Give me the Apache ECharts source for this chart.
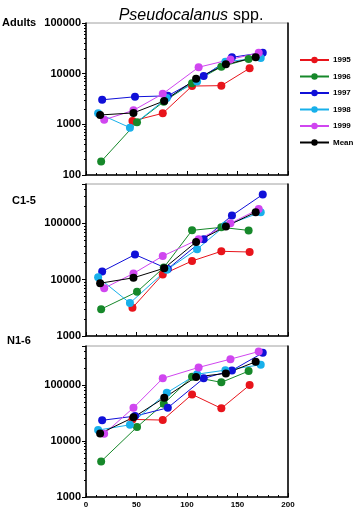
<!DOCTYPE html>
<html><head><meta charset="utf-8">
<script src="https://cdn.jsdelivr.net/npm/echarts@6/dist/echarts.min.js"></script>
<style>html,body{margin:0;padding:0;background:#fff}#c{width:360px;height:516px}</style>
</head><body><div id="c"></div>
<script>
const seriesNames = ['1995','1996','1997','1998','1999','Mean'];
const seriesColors = ['#e8141b','#16882a','#1010d8','#18b0ea','#d046f0','#000000'];
const panelNames = ['Adults','C1-5','N1-6'];
const xTicks = [0, 50, 100, 150, 200];

const days1995 = [46, 76, 105, 134, 162];
const days1996 = [15, 50.5, 77, 105, 134, 161];
const days1997 = [16, 48.5, 81, 116.5, 144.5, 175];
const days1998 = [12, 43.5, 80, 110, 138, 173];
const days1999 = [18, 47, 76, 111.5, 143, 171];
const daysMean = [14, 47, 77.5, 109, 138.5, 168];

const adults1995 = [1165, 1650, 5700, 5800, 12800];
const adults1996 = [185, 1100, 2800, 6500, 13700, 19500];
const adults1997 = [3050, 3500, 3650, 9000, 21000, 26000];
const adults1998 = [1650, 860, 3300, 7000, 17200, 20400];
const adults1999 = [1230, 1890, 4000, 13400, 19000, 25900];
const adultsMean = [1530, 1680, 2900, 7900, 15300, 21000];

const c15_1995 = [3170, 12400, 21500, 31900, 31000];
const c15_1996 = [3000, 6080, 16400, 75100, 85000, 75000];
const c15_1997 = [14000, 27900, 15500, 52000, 138000, 326000];
const c15_1998 = [11000, 3840, 15000, 34700, 92000, 157000];
const c15_1999 = [7080, 12900, 26300, 52100, 100000, 179000];
const c15_Mean = [8670, 10800, 16000, 46700, 88000, 158000];

const n16_1995 = [24400, 23700, 68200, 38400, 100000];
const n16_1996 = [4330, 17800, 46400, 141000, 112000, 178000];
const n16_1997 = [23500, 27900, 39300, 132000, 183000, 377000];
const n16_1998 = [15700, 19500, 72800, 157000, 185000, 231000];
const n16_1999 = [13500, 39400, 132000, 207000, 291000, 398000];
const n16_Mean = [13700, 26500, 59300, 140000, 162000, 261000];

const yMins = [100, 1000, 1000];
const yMaxs = [100000, 500000, 500000];

const daysList = [days1995, days1996, days1997, days1998, days1999, daysMean];
const panelValues = [
  [adults1995, adults1996, adults1997, adults1998, adults1999, adultsMean],
  [c15_1995, c15_1996, c15_1997, c15_1998, c15_1999, c15_Mean],
  [n16_1995, n16_1996, n16_1997, n16_1998, n16_1999, n16_Mean]
];

const FONT = 'Liberation Sans, Arial, sans-serif';
const gridTops = [23, 184, 346];
const gridHeights = [152, 152, 151];

const grids = [], xAxes = [], yAxes = [], series = [];
for (let p = 0; p < 3; p++) {
  grids.push({left: 86, width: 202, top: gridTops[p], height: gridHeights[p],
    show: true, borderColor: '#a0a0a0', borderWidth: 1, backgroundColor: 'transparent'});
  const isBottom = p === 2;
  xAxes.push({type: 'value', gridIndex: p, min: xTicks[0], max: xTicks[xTicks.length-1], interval: 50,
    axisLine: {show: true, lineStyle: {color: '#000', width: 1.5}},
    axisTick: {show: true, inside: true, length: 4, lineStyle: {color: '#000', width: 1}},
    minorTick: {show: true, splitNumber: 5, length: 2, lineStyle: {color: '#000'}},
    splitLine: {show: false},
    axisLabel: {show: isBottom, color: '#000', fontFamily: FONT, fontWeight: 'bold', fontSize: 8, margin: 4}
  });
  yAxes.push({type: 'log', logBase: 10, gridIndex: p, min: yMins[p], max: yMaxs[p], position: 'left',
    axisLine: {show: true, lineStyle: {color: '#000', width: 1.5}},
    axisTick: {show: true, inside: false, length: 4, lineStyle: {color: '#000', width: 1}},
    minorTick: {show: true, splitNumber: 9, length: 2, lineStyle: {color: '#000'}},
    splitLine: {show: false},
    axisLabel: {color: '#000', fontFamily: FONT, fontWeight: 'bold', fontSize: 11, margin: 5,
      formatter: function (v) { const l = Math.log10(v); return Math.abs(l - Math.round(l)) < 1e-6 ? String(Math.round(v)) : ''; }}
  });
  yAxes.push({type: 'log', logBase: 10, gridIndex: p, min: yMins[p], max: yMaxs[p], position: 'right',
    axisLine: {show: true, lineStyle: {color: '#000', width: 1.5}},
    axisTick: {show: false}, axisLabel: {show: false}, splitLine: {show: false}});
  for (let s = 0; s < seriesNames.length; s++) {
    const xs = daysList[s], ys = panelValues[p][s];
    series.push({
      name: seriesNames[s], type: 'line', xAxisIndex: p, yAxisIndex: p * 2,
      data: xs.map((x, i) => [x, ys[i]]),
      symbol: 'circle', symbolSize: 8,
      itemStyle: {color: seriesColors[s]},
      lineStyle: {color: seriesColors[s], width: 1},
      emphasis: {disabled: true}, animation: false
    });
  }
}

const chart = echarts.init(document.getElementById('c'), null, {renderer: 'canvas'});
chart.setOption({
  animation: false,
  backgroundColor: '#fff',
  title: {text: '{i|Pseudocalanus} {n|spp.}', left: 186, textAlign: 'center', top: 2,
    textStyle: {fontWeight: 'normal', rich: {
      i: {fontFamily: FONT, fontStyle: 'italic', fontWeight: 'normal', fontSize: 16, color: '#000'},
      n: {fontFamily: FONT, fontWeight: 'normal', fontSize: 16, color: '#000'}
    }}},
  legend: {
    orient: 'vertical', left: 294, top: 51, itemWidth: 29, itemHeight: 8, itemGap: 8.5,
    data: seriesNames,
    textStyle: {fontFamily: FONT, fontWeight: 'bold', fontSize: 8, color: '#000', padding: [0,0,0,-1]},
    selectedMode: false
  },
  graphic: [
    {type: 'text', left: 2, top: 17, style: {text: panelNames[0], font: 'bold 11px ' + FONT, fill: '#000'}},
    {type: 'text', left: 12, top: 195, style: {text: panelNames[1], font: 'bold 11px ' + FONT, fill: '#000'}},
    {type: 'text', left: 7, top: 335, style: {text: panelNames[2], font: 'bold 11px ' + FONT, fill: '#000'}}
  ],
  grid: grids, xAxis: xAxes, yAxis: yAxes, series: series
});
</script></body></html>
